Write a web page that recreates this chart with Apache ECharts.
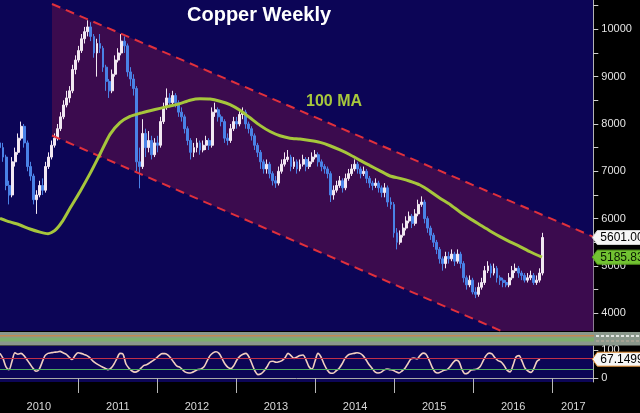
<!DOCTYPE html>
<html><head><meta charset="utf-8">
<script src="https://cdn.jsdelivr.net/npm/echarts@6/dist/echarts.min.js"></script>
<style>html,body{margin:0;padding:0;background:#000;}#c{width:640px;height:413px;}</style>
</head><body><div id="c"></div>
<script>
// ---- axis ranges (decimal years / price) ----
const xMin = 2010.0097, xMax = 2017.5131;
const priceMin = 3625.6, priceMax = 10619;
const oscMin = -14.3, oscMax = 114.3;
const priceLabels = [4000, 5000, 6000, 7000, 8000, 9000, 10000];
const priceTicks = [4000, 4500, 5000, 5500, 6000, 6500, 7000, 7500, 8000, 8500, 9000, 9500, 10000, 10500];
const yearTicks = [2011, 2012, 2013, 2014, 2015, 2016, 2017];
const yearLabels = [2010.5, 2011.5, 2012.5, 2013.5, 2014.5, 2015.5, 2016.5, 2017.26];

// ---- bi-weekly copper bars ----
const barStart = 2010.0097, barStep = 14 / 365.25;
const firstOpen = 7600;
const closes = [7500,7300,6700,6500,7200,7400,7700,7950,7600,7100,
6900,6400,6500,6700,6600,7100,7300,7550,7700,7900,
8150,8400,8550,8700,9150,9350,9550,9800,9950,10050,
9850,9500,9700,9600,9200,8900,8700,9050,9350,9500,
9750,9650,9100,8950,8750,7200,7100,7800,7500,7650,
7350,7600,7550,8050,8350,8550,8450,8600,8450,8250,
8150,7900,7650,7400,7500,7600,7450,7550,7650,7550,
8250,8300,8150,8050,7700,7650,7900,8050,8000,8200,
8250,8000,7900,7750,7550,7400,7200,7050,7150,6950,
6800,6750,7000,7150,7250,7300,7100,7200,7050,7150,
7250,7100,7200,7300,7350,7200,7100,7050,6950,6500,
6600,6700,6800,6650,6850,6950,7050,7150,7050,6950,
7000,6850,6750,6700,6750,6650,6550,6650,6350,6300,
5700,5500,5650,5800,5950,6050,5900,6100,6300,6350,
6000,5800,5650,5500,5350,5150,5050,5200,5150,5250,
5100,5250,5050,4750,4600,4700,4450,4400,4550,4650,
4900,5000,4850,4950,4750,4700,4650,4600,4750,4900,
4950,4850,4800,4700,4750,4800,4650,4700,4850,5601];
const highs = [7750,7600,7350,6800,7300,7500,7800,8050,8000,7650,
7200,6950,6600,6800,6850,7200,7400,7650,7800,8000,
8250,8500,8700,8800,9250,9450,9650,9900,10050,10190,
10150,9900,9800,9900,9650,9250,8950,9150,9450,9600,
9900,9850,9700,9200,9050,8800,7500,8100,7900,7850,
7750,7700,7750,8150,8450,8750,8650,8700,8650,8500,
8350,8200,7950,7700,7600,7700,7650,7650,7750,7700,
8350,8450,8350,8200,8100,7800,8000,8150,8150,8300,
8350,8300,8050,7950,7800,7600,7450,7250,7250,7200,
7000,6900,7100,7250,7400,7450,7350,7300,7250,7250,
7350,7300,7300,7400,7450,7400,7250,7150,7100,7000,
6700,6800,6900,6850,6950,7050,7150,7250,7200,7100,
7100,7050,6900,6800,6850,6800,6700,6750,6700,6450,
6350,5800,5750,5900,6050,6150,6100,6200,6400,6470,
6400,6050,5850,5700,5550,5400,5200,5300,5300,5350,
5300,5350,5300,5100,4800,4800,4750,4550,4650,4750,
5000,5100,5050,5050,5000,4800,4750,4700,4850,5000,
5050,5000,4900,4850,4850,4900,4850,4800,4950,5700];
const lows = [7350,7200,6600,6300,6450,7100,7350,7650,7500,7000,
6800,6300,6100,6450,6500,6550,7050,7250,7500,7650,
7850,8100,8350,8450,8650,9050,9300,9500,9700,9850,
9750,9400,9000,9500,9100,8700,8550,8650,9000,9300,
9450,9500,9000,8800,8600,7000,6640,7050,7300,7400,
7250,7300,7400,7500,8000,8300,8350,8400,8350,8150,
8050,7800,7550,7250,7300,7400,7350,7400,7450,7450,
7500,8150,8050,7950,7600,7550,7600,7850,7900,7950,
8100,7900,7800,7650,7450,7300,7050,6950,6950,6850,
6700,6650,6700,6950,7100,7200,7000,7050,6950,7000,
7100,7000,7050,7150,7250,7100,7000,6950,6850,6350,
6400,6550,6650,6550,6600,6800,6900,7000,6950,6850,
6900,6750,6650,6600,6650,6550,6450,6450,6250,6200,
5600,5350,5450,5600,5750,5900,5800,5850,6050,6250,
5900,5700,5550,5400,5250,5050,4900,4950,5050,5100,
5000,5050,4950,4650,4500,4550,4400,4320,4350,4500,
4600,4850,4750,4800,4650,4600,4550,4550,4550,4700,
4850,4750,4700,4650,4650,4700,4600,4600,4650,4800];

// ---- 100-week moving average [year, value] ----
const ma100 = [[2010.010,6007],[2010.136,5930],[2010.263,5865],[2010.389,5780],[2010.516,5715],[2010.617,5680],
[2010.705,5750],[2010.794,5930],[2010.895,6220],[2011.021,6570],[2011.148,6950],[2011.274,7360],[2011.401,7780],
[2011.527,8030],[2011.654,8160],[2011.780,8225],[2011.907,8280],[2012.033,8330],[2012.160,8380],[2012.286,8430],
[2012.413,8500],[2012.539,8530],[2012.666,8525],[2012.792,8480],[2012.919,8410],[2013.045,8290],[2013.172,8130],
[2013.298,7970],[2013.425,7840],[2013.551,7750],[2013.677,7700],[2013.804,7680],[2013.930,7650],[2014.057,7610],
[2014.183,7540],[2014.310,7450],[2014.436,7350],[2014.563,7230],[2014.689,7120],[2014.816,7010],[2014.942,6900],
[2015.069,6850],[2015.195,6790],[2015.321,6710],[2015.448,6580],[2015.574,6430],[2015.701,6300],[2015.827,6140],
[2015.954,6000],[2016.080,5870],[2016.207,5740],[2016.333,5620],[2016.460,5510],[2016.586,5410],[2016.713,5300],
[2016.864,5185.83]];

// ---- trend channel (start year, upper, lower) -> (end year, upper, lower) ----
const channelStart = [2010.6674, 10535, 7756];
const channelEnd = [2017.5131, 5616, 2780];

// ---- oscillator ----
const oscStart = 2010.0097, oscStep = 0.037941;
const osc = [88,70,40,30,60,90,85,88,80,65,50,35,24,30,55,80,88,90,92,93,
95,90,85,75,66,80,90,88,84,80,72,60,52,46,40,35,30,35,50,70,
88,85,50,35,25,21,25,35,45,48,55,62,70,80,87,87,82,70,55,42,
38,28,20,18,20,25,30,
32,40,60,80,90,94,88,70,50,38,
34,45,65,78,85,88,75,50,25,12,
15,25,40,58,60,56,58,62,72,88,
80,70,75,80,82,65,40,32,60,88,
75,50,30,18,17,25,34,50,70,82,
86,88,90,88,80,65,48,35,22,18,
20,28,32,30,28,22,18,25,35,52,
68,71,68,80,89,85,65,40,22,18,
22,28,30,40,55,64,58,30,15,18,
28,30,32,40,60,80,89,86,72,62,
58,45,28,22,45,75,80,60,35,25,
20,35,60,67.1499];
const oscUpper = 70, oscLower = 30;

// ---- build tables ----
const candleData = closes.map((c, i) => [barStart + i * barStep, i === 0 ? firstOpen : closes[i - 1], c, lows[i], highs[i]]);
const oscData = osc.map((v, j) => [oscStart + j * oscStep, v]);
const lastPrice = closes[closes.length - 1];
const lastMA = ma100[ma100.length - 1][1];
const lastOsc = osc[osc.length - 1];

const FONT = '"Liberation Sans", Arial, sans-serif';

function tagSeries(xi, yi, value, text, bg, fg, stroke) {
  return {
    type: 'custom', xAxisIndex: xi, yAxisIndex: yi, z: 20, silent: true, clip: false,
    data: [[xMax, value]],
    encode: { x: 0, y: 1 },
    renderItem: function (params, api) {
      const p = api.coord([api.value(0), api.value(1)]);
      const x = p[0], y = p[1], h = 7;
      return {
        type: 'group',
        children: [
          { type: 'polygon', shape: { points: [[x - 1, y], [x + 4, y - h], [660, y - h], [660, y + h], [x + 4, y + h]] },
            style: { fill: bg, stroke: stroke, lineWidth: 1 } },
          { type: 'text', x: x + 7, y: y + 0.5,
            style: { text: text, fill: fg, fontSize: 12, fontFamily: FONT, align: 'left', verticalAlign: 'middle' } }
        ]
      };
    }
  };
}

const chart = echarts.init(document.getElementById('c'), null, { renderer: 'canvas' });
chart.setOption({
  backgroundColor: '#000',
  animation: false,
  grid: [
    { left: 0, right: 46.7, top: 0, height: 331, show: true, backgroundColor: '#0c0556', borderWidth: 0 },
    { left: 0, right: 46.7, top: 346, height: 36, show: true, backgroundColor: '#0c0556', borderWidth: 0 }
  ],
  xAxis: [
    { type: 'value', gridIndex: 0, min: xMin, max: xMax, show: false },
    { type: 'value', gridIndex: 1, min: xMin, max: xMax,
      axisLine: { show: true, lineStyle: { color: '#a8a8a8', width: 1 } },
      axisTick: { show: true, customValues: yearTicks, length: 15, lineStyle: { color: '#b8b8b8' } },
      axisLabel: { customValues: yearLabels, formatter: v => String(Math.floor(v)), color: '#d8d8d8', fontSize: 11, fontFamily: FONT, margin: 19 },
      splitLine: { show: false } }
  ],
  yAxis: [
    { type: 'value', gridIndex: 0, position: 'right', min: priceMin, max: priceMax,
      axisLine: { show: true, lineStyle: { color: '#b4b4b4' } },
      axisTick: { show: true, customValues: priceTicks, length: 5, lineStyle: { color: '#d0d0d0' } },
      axisLabel: { customValues: priceLabels, formatter: v => String(v), color: '#e4e4e4', fontSize: 11, fontFamily: FONT, margin: 8 },
      splitLine: { show: false } },
    { type: 'value', gridIndex: 1, position: 'right', min: oscMin, max: oscMax,
      axisLine: { show: true, lineStyle: { color: '#b4b4b4' } },
      axisTick: { show: true, customValues: [0, 100], length: 5, lineStyle: { color: '#d0d0d0' } },
      axisLabel: { customValues: [0, 100], formatter: v => String(v), color: '#e4e4e4', fontSize: 11, fontFamily: FONT, margin: 8 },
      splitLine: { show: false } }
  ],
  graphic: [
    { type: 'rect', z: 100, shape: { x: 0, y: 332, width: 640, height: 13.5 }, style: { fill: '#8a988c' } },
    { type: 'rect', z: 101, shape: { x: 0, y: 335, width: 594, height: 1.5 }, style: { fill: '#c08a50' } },
    { type: 'rect', z: 101, shape: { x: 0, y: 337.5, width: 594, height: 4 }, style: { fill: '#7cae6e' } },
    { type: 'line', z: 101, shape: { x1: 596, y1: 336, x2: 640, y2: 336 }, style: { stroke: '#ffffff', lineDash: [3, 2], lineWidth: 1.5 } },
    { type: 'line', z: 101, shape: { x1: 596, y1: 341, x2: 640, y2: 341 }, style: { stroke: '#b0a898', lineDash: [3, 2], lineWidth: 1.5 } },
    { type: 'text', z: 110, x: 187, y: 15.5, style: { text: 'Copper Weekly', fill: '#ffffff', fontSize: 20, fontWeight: 'bold', fontFamily: FONT, align: 'left', verticalAlign: 'middle' } },
    { type: 'text', z: 110, x: 306, y: 101.5, style: { text: '100 MA', fill: '#a8c83c', fontSize: 16, fontWeight: 'bold', fontFamily: FONT, align: 'left', verticalAlign: 'middle' } }
  ],
  series: [
    { name: 'channel', type: 'custom', xAxisIndex: 0, yAxisIndex: 0, z: 1, silent: true, clip: true,
      data: [[channelStart[0], channelStart[1], channelStart[2], channelEnd[0], channelEnd[1], channelEnd[2]]],
      encode: { x: [0, 3], y: [1, 2, 4, 5] },
      renderItem: function (params, api) {
        const a = api.coord([api.value(0), api.value(1)]);
        const b = api.coord([api.value(3), api.value(4)]);
        const c = api.coord([api.value(3), api.value(5)]);
        const d = api.coord([api.value(0), api.value(2)]);
        return { type: 'polygon', shape: { points: [a, b, c, d] }, style: { fill: '#3b0b4e' } };
      } },
    { name: 'Copper', type: 'candlestick', xAxisIndex: 0, yAxisIndex: 0, z: 2,
      data: candleData, encode: { x: 0, y: [1, 2, 3, 4] }, barWidth: 2.4,
      itemStyle: { color: '#f2e8f2', borderColor: '#f2e8f2', color0: '#4a82e6', borderColor0: '#4a82e6', borderWidth: 1 } },
    { name: 'upper', type: 'line', xAxisIndex: 0, yAxisIndex: 0, z: 3, symbol: 'none', silent: true,
      data: [[channelStart[0], channelStart[1]], [channelEnd[0], channelEnd[1]]],
      lineStyle: { color: '#e0303c', width: 2, type: [9, 6] } },
    { name: 'lower', type: 'line', xAxisIndex: 0, yAxisIndex: 0, z: 3, symbol: 'none', silent: true,
      data: [[channelStart[0], channelStart[2]], [channelEnd[0], channelEnd[2]]],
      lineStyle: { color: '#e0303c', width: 2, type: [9, 6] } },
    { name: '100 MA', type: 'line', xAxisIndex: 0, yAxisIndex: 0, z: 4, symbol: 'none', smooth: 0.2,
      data: ma100, lineStyle: { color: '#a6c63c', width: 3 } },
    { name: 'osc', type: 'line', xAxisIndex: 1, yAxisIndex: 1, z: 4, symbol: 'none', smooth: 0.3,
      data: oscData, lineStyle: { color: '#f2cfc0', width: 1.6 },
      markLine: { silent: true, symbol: 'none', label: { show: false },
        data: [{ yAxis: oscUpper, lineStyle: { color: '#c03048', width: 1.2, type: 'solid' } },
               { yAxis: oscLower, lineStyle: { color: '#4aa860', width: 1.2, type: 'solid' } }] } },
    tagSeries(0, 0, lastPrice, lastPrice.toFixed(2), '#f6f6f6', '#000', '#d0d0d0'),
    tagSeries(0, 0, lastMA, lastMA.toFixed(2), '#72c232', '#0a1a00', '#5aa020'),
    tagSeries(1, 1, lastOsc, lastOsc.toFixed(4), '#f6f6f6', '#000', '#e08a30')
  ]
});
</script></body></html>
